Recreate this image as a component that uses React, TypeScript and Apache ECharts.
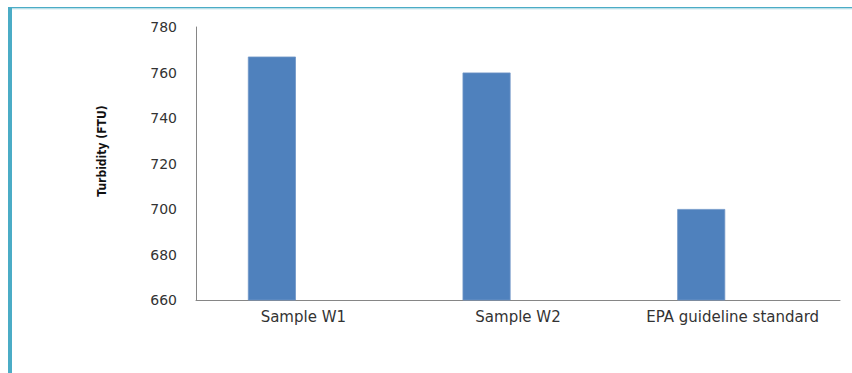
import React, { useEffect, useRef } from "react";
import * as echarts from "echarts";

// Turbidity readings (FTU) per sample
const categories = ["Sample W1", "Sample W2", "EPA guideline standard"];
const turbidity = [767, 760, 700];
// second slot in each cluster is left empty, as in the source workbook
const spare = [null, null, null];

const yMin = 660;
const yMax = 780;
const yStep = 20;

const frameColor = "#4bacc6";
const barColor = "#4f81bd";
const axisColor = "#868686";
const textColor = "#333333";
const labelFont = "'DejaVu Sans', sans-serif";

export default function App() {
  const ref = useRef<HTMLDivElement>(null);

  useEffect(() => {
    if (!ref.current) return;
    const chart = echarts.init(ref.current, null, { renderer: "svg" });
    chart.setOption({
      animation: false,
      backgroundColor: "#ffffff",
      grid: { left: 196, right: 12, top: 27, bottom: 73, containLabel: false },
      xAxis: {
        type: "category",
        data: categories,
        axisLine: { show: true, lineStyle: { color: axisColor, width: 1 } },
        axisTick: { show: false },
        axisLabel: {
          interval: 0,
          margin: 9,
          color: textColor,
          fontFamily: labelFont,
          fontSize: 15,
        },
        splitLine: { show: false },
      },
      yAxis: {
        type: "value",
        min: yMin,
        max: yMax,
        interval: yStep,
        axisLine: { show: true, lineStyle: { color: axisColor, width: 1 } },
        axisTick: { show: false },
        axisLabel: {
          margin: 19,
          color: textColor,
          fontFamily: labelFont,
          fontSize: 14,
        },
        splitLine: { show: false },
      },
      series: [
        {
          name: "Turbidity",
          type: "bar",
          data: turbidity,
          barWidth: 48,
          barGap: "31%",
          itemStyle: { color: barColor, borderColor: "#7096c6", borderWidth: 0.8 },
        },
        {
          name: "Spare",
          type: "bar",
          data: spare,
          barWidth: 48,
          barGap: "31%",
          itemStyle: { color: barColor },
        },
      ],
      graphic: [
        {
          type: "rect",
          shape: { x: 8, y: 7, width: 4, height: 366 },
          style: { fill: frameColor },
        },
        {
          type: "line",
          shape: { x1: 8, y1: 7.75, x2: 852, y2: 7.75 },
          style: { stroke: frameColor, lineWidth: 1.5 },
        },
        {
          type: "line",
          shape: { x1: 12, y1: 9, x2: 852, y2: 9 },
          style: { stroke: "#cfe9ef", lineWidth: 1 },
        },
        {
          type: "text",
          x: 102,
          y: 151,
          rotation: Math.PI / 2,
          style: {
            text: "Turbidity (FTU)",
            fill: "#111111",
            fontFamily: "'Liberation Sans Narrow', 'DejaVu Sans Condensed', sans-serif",
            fontWeight: "bold",
            fontSize: 12,
            align: "center",
            verticalAlign: "middle",
          },
        },
      ],
    });
    return () => chart.dispose();
  }, []);

  return (
    <div
      ref={ref}
      style={{ position: "fixed", left: 0, top: 0, width: 852, height: 373 }}
    />
  );
}
